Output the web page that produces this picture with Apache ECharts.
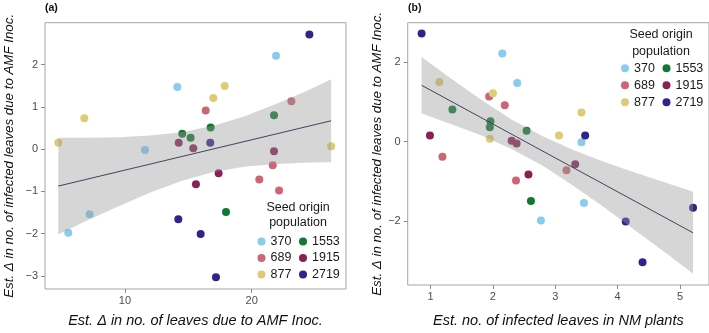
<!DOCTYPE html>
<html>
<head>
<meta charset="utf-8">
<script src="https://cdn.jsdelivr.net/npm/echarts@6/dist/echarts.min.js"></script>
<style>
html,body{margin:0;padding:0;background:#fff;}
#chart{width:709px;height:333px;}
</style>
</head>
<body>
<div id="chart"></div>
<script>
// ---------- DATA ----------
const populations = ['370', '689', '877', '1553', '1915', '2719'];

// Est. Δ in no. of infected leaves due to AMF Inoc. (y, both panels)
const infDelta370  = [-0.02, 1.47, 2.21, -1.54, -1.98];
const infDelta689  = [0.91, 1.13, -0.38, -0.72, -0.98];
const infDelta877  = [0.15, 0.73, 1.21, 1.49, 0.07];
const infDelta1553 = [0.36, 0.27, 0.51, 0.80, -1.49];
const infDelta1915 = [0.15, 0.02, -0.05, -0.57, -0.83];
const infDelta2719 = [0.15, 2.71, -1.66, -2.01, -3.03];

// Panel (a) x: Est. Δ in no. of leaves due to AMF Inoc.
const leafDelta370  = [11.58, 14.13, 21.92, 7.21, 5.53];
const leafDelta689  = [16.37, 23.13, 21.66, 20.60, 22.16];
const leafDelta877  = [4.74, 6.79, 16.97, 17.87, 26.27];
const leafDelta1553 = [14.52, 15.18, 16.76, 21.76, 17.97];
const leafDelta1915 = [14.24, 15.39, 21.76, 17.39, 15.60];
const leafDelta2719 = [16.73, 24.55, 14.21, 15.97, 17.18];

// Panel (b) x: Est. no. of infected leaves in NM plants
const nmInf370  = [3.42, 2.39, 2.15, 3.46, 2.77];
const nmInf689  = [2.19, 1.94, 1.19, 3.18, 2.37];
const nmInf877  = [3.06, 3.42, 2.00, 1.14, 1.95];
const nmInf1553 = [1.95, 2.54, 1.96, 1.35, 2.61];
const nmInf1915 = [0.99, 2.30, 2.38, 3.32, 2.57];
const nmInf2719 = [3.48, 0.856, 5.21, 4.13, 4.40];

// Panel (a) fitted line and confidence band
const fitAX = [4.74, 26.27];
const fitAY = [-0.875, 0.67];
const bandAX     = [4.74, 7, 9.5, 12, 14.5, 17, 19.5, 22, 24.5, 26.27];
const bandAUpper = [0.27, 0.27, 0.28, 0.32, 0.40, 0.55, 0.78, 1.08, 1.40, 1.65];
const bandALower = [-2.02, -1.69, -1.35, -1.03, -0.75, -0.54, -0.41, -0.35, -0.32, -0.31];

// Panel (b) fitted line and confidence band
const fitBX = [0.856, 5.21];
const fitBY = [1.41, -2.29];
const bandBX     = [0.856, 1.3, 1.8, 2.3, 2.8, 3.3, 3.8, 4.3, 4.8, 5.21];
const bandBUpper = [2.12, 1.61, 1.06, 0.55, 0.13, -0.22, -0.52, -0.79, -1.05, -1.26];
const bandBLower = [0.70, 0.45, 0.16, -0.19, -0.61, -1.12, -1.67, -2.25, -2.83, -3.32];

// Tick labels
const ticksAX = [10, 20];
const ticksAY = [-3, -2, -1, 0, 1, 2];
const ticksBX = [1, 2, 3, 4, 5];
const ticksBY = [-2, 0, 2];

// ---------- STYLE ----------
const FONT = '"Liberation Sans", Arial, Helvetica, sans-serif';
const popColors = ['#88CCEE', '#CC6677', '#DDCC77', '#117733', '#882255', '#332288'];
const infDeltas = [infDelta370, infDelta689, infDelta877, infDelta1553, infDelta1915, infDelta2719];
const leafDeltas = [leafDelta370, leafDelta689, leafDelta877, leafDelta1553, leafDelta1915, leafDelta2719];
const nmInfs = [nmInf370, nmInf689, nmInf877, nmInf1553, nmInf1915, nmInf2719];

const fmt = v => (v < 0 ? '\u2212' + Math.abs(v) : String(v));

function makeXAxis(gi, min, max, ticks, name, gap) {
  return {
    type: 'value', gridIndex: gi, min: min, max: max,
    axisLine: {show: false, onZero: false}, splitLine: {show: false},
    axisTick: {show: true, customValues: ticks, length: 4, lineStyle: {color: '#8a8a8a', width: 1}},
    axisLabel: {customValues: ticks, fontSize: 11, color: '#4d4d4d', margin: 6, fontFamily: FONT, formatter: fmt},
    name: name, nameLocation: 'middle', nameGap: gap,
    nameTextStyle: {fontStyle: 'italic', fontSize: 14.5, color: '#111', fontFamily: FONT}
  };
}
function makeYAxis(gi, min, max, ticks, name, gap) {
  return {
    type: 'value', gridIndex: gi, min: min, max: max,
    axisLine: {show: false, onZero: false}, splitLine: {show: false},
    axisTick: {show: true, customValues: ticks, length: 4, lineStyle: {color: '#8a8a8a', width: 1}},
    axisLabel: {customValues: ticks, fontSize: 11, color: '#4d4d4d', margin: 7, fontFamily: FONT, formatter: fmt},
    name: name, nameLocation: 'middle', nameGap: gap,
    nameTextStyle: {fontStyle: 'italic', fontSize: 13.3, color: '#111', fontFamily: FONT}
  };
}

const series = [];
populations.forEach((p, i) => {
  series.push({
    name: p, type: 'scatter', xAxisIndex: 0, yAxisIndex: 0, z: 2,
    symbolSize: 8, itemStyle: {color: popColors[i], opacity: 1},
    data: leafDeltas[i].map((x, j) => [x, infDeltas[i][j]])
  });
  series.push({
    name: p, type: 'scatter', xAxisIndex: 1, yAxisIndex: 1, z: 2,
    symbolSize: 8, itemStyle: {color: popColors[i], opacity: 1},
    data: nmInfs[i].map((x, j) => [x, infDeltas[i][j]])
  });
});

function bandSeries(name, axisIdx, xs, lo, hi) {
  return {
    name: name, type: 'custom', xAxisIndex: axisIdx, yAxisIndex: axisIdx, z: 3, silent: true,
    encode: {x: 0, y: 1},
    data: [[xs[0], lo[0]]],
    renderItem: function (params, api) {
      const pts = [];
      for (let j = 0; j < xs.length; j++) pts.push(api.coord([xs[j], hi[j]]));
      for (let j = xs.length - 1; j >= 0; j--) pts.push(api.coord([xs[j], lo[j]]));
      return {type: 'polygon', shape: {points: pts}, style: {fill: 'rgba(153,153,153,0.4)', stroke: null}};
    }
  };
}
series.push(bandSeries('bandA', 0, bandAX, bandALower, bandAUpper));
series.push(bandSeries('bandB', 1, bandBX, bandBLower, bandBUpper));

series.push({
  name: 'fitA', type: 'line', xAxisIndex: 0, yAxisIndex: 0, z: 4, symbol: 'none', silent: true,
  lineStyle: {color: '#3a475c', width: 1}, data: fitAX.map((x, j) => [x, fitAY[j]])
});
series.push({
  name: 'fitB', type: 'line', xAxisIndex: 1, yAxisIndex: 1, z: 4, symbol: 'none', silent: true,
  lineStyle: {color: '#3a475c', width: 1}, data: fitBX.map((x, j) => [x, fitBY[j]])
});

const legendBase = {
  orient: 'vertical', itemWidth: 8, itemHeight: 8, itemGap: 2.5, padding: 0,
  icon: 'circle', selectedMode: false,
  itemStyle: {opacity: 1},
  textStyle: {fontSize: 12.5, lineHeight: 14, color: '#1a1a1a', fontFamily: FONT}
};

const yName = 'Est. \u0394 in no. of infected leaves due to AMF Inoc.';

const option = {
  animation: false,
  backgroundColor: '#fff',
  grid: [
    {left: 45, top: 22.7, width: 301, height: 266.3, show: true, borderColor: '#a6a6a6', borderWidth: 1, backgroundColor: 'transparent'},
    {left: 407.7, top: 22.7, width: 303, height: 266.3, show: true, borderColor: '#a6a6a6', borderWidth: 1, backgroundColor: 'transparent'}
  ],
  xAxis: [
    makeXAxis(0, 3.69, 27.44, ticksAX, 'Est. \u0394 in no. of leaves due to AMF Inoc.', 24),
    makeXAxis(1, 0.633, 5.466, ticksBX, 'Est. no. of infected leaves in NM plants', 28)
  ],
  yAxis: [
    makeYAxis(0, -3.31, 2.99, ticksAY, yName, 29),
    makeYAxis(1, -3.6, 2.98, ticksBY, yName, 24)
  ],
  legend: [
    Object.assign({}, legendBase, {data: ['370', '689', '877'], left: 257.5, top: 234.5}),
    Object.assign({}, legendBase, {data: ['1553', '1915', '2719'], left: 299, top: 234.5}),
    Object.assign({}, legendBase, {data: ['370', '689', '877'], left: 621, top: 61.3, itemGap: 3}),
    Object.assign({}, legendBase, {data: ['1553', '1915', '2719'], left: 662.5, top: 61.3, itemGap: 3})
  ],
  graphic: [
    {type: 'text', x: 45, y: 8, style: {text: '(a)', font: 'bold 10.5px ' + FONT, fill: '#111', textAlign: 'left', textVerticalAlign: 'middle'}},
    {type: 'text', x: 408, y: 8, style: {text: '(b)', font: 'bold 10.5px ' + FONT, fill: '#111', textAlign: 'left', textVerticalAlign: 'middle'}},
    {type: 'text', x: 298, y: 207.7, style: {text: 'Seed origin', font: '12.5px ' + FONT, fill: '#1a1a1a', textAlign: 'center', textVerticalAlign: 'middle'}},
    {type: 'text', x: 298, y: 223, style: {text: 'population', font: '12.5px ' + FONT, fill: '#1a1a1a', textAlign: 'center', textVerticalAlign: 'middle'}},
    {type: 'text', x: 661, y: 35, style: {text: 'Seed origin', font: '12.5px ' + FONT, fill: '#1a1a1a', textAlign: 'center', textVerticalAlign: 'middle'}},
    {type: 'text', x: 661, y: 51.5, style: {text: 'population', font: '12.5px ' + FONT, fill: '#1a1a1a', textAlign: 'center', textVerticalAlign: 'middle'}}
  ],
  series: series
};

const chart = echarts.init(document.getElementById('chart'), null, {renderer: 'canvas', width: 709, height: 333});
chart.setOption(option);
</script>
</body>
</html>
